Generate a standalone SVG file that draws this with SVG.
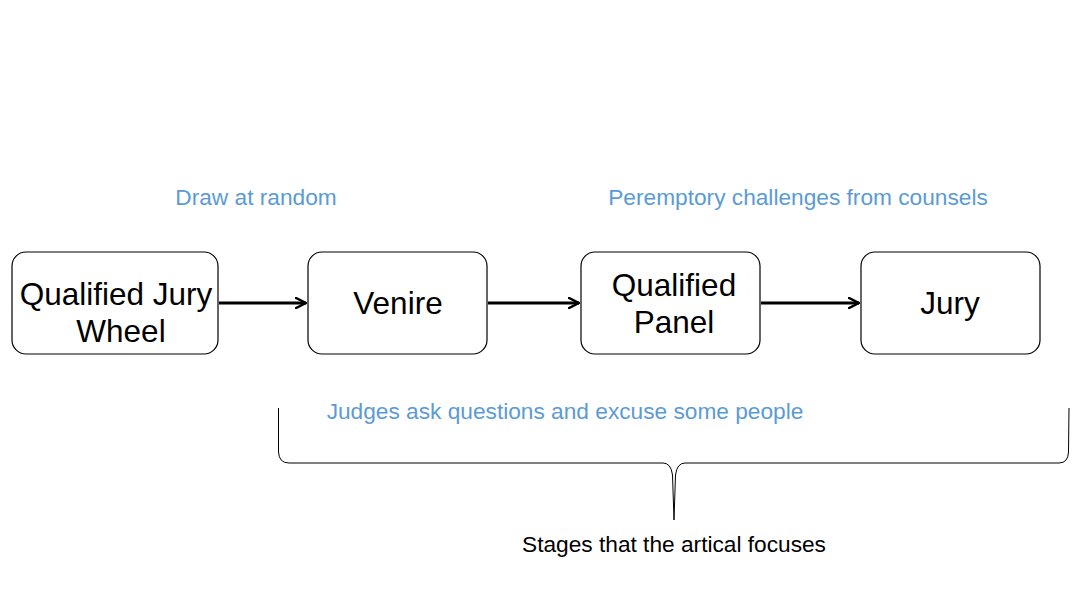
<svg xmlns="http://www.w3.org/2000/svg" width="1078" height="607" viewBox="0 0 1078 607">
<style>
.box{fill:#fff;stroke:#000;stroke-width:1.2}
.nt{font-family:"Liberation Sans",Arial,sans-serif;font-size:31.5px;fill:#000;text-anchor:middle}
.bl{font-family:"Liberation Sans",Arial,sans-serif;font-size:22.7px;fill:#5B9BD5;text-anchor:middle}
.bk{font-family:"Liberation Sans",Arial,sans-serif;font-size:22.7px;fill:#000;text-anchor:middle}
.conn{stroke:#000;stroke-width:3;fill:none}
</style>
<defs>
<marker id="ah" viewBox="0 0 12 12" refX="11" refY="6" markerWidth="12" markerHeight="12" markerUnits="userSpaceOnUse" orient="auto">
<path d="M1,1 L11,6 L1,11" fill="none" stroke="#000" stroke-width="2.5" stroke-linecap="round" stroke-linejoin="round"/>
</marker>
</defs>
<rect width="1078" height="607" fill="#fff"/>
<g id="wheel"><rect class="box" x="12" y="252" width="206" height="102" rx="14"/><text class="nt" x="116" y="305">Qualified Jury</text><text class="nt" x="121" y="342">Wheel</text></g>
<g id="venire"><rect class="box" x="308" y="252" width="179" height="102" rx="14"/><text class="nt" x="398" y="314">Venire</text></g>
<g id="panel"><rect class="box" x="581" y="252" width="179" height="102" rx="14"/><text class="nt" x="674" y="296">Qualified</text><text class="nt" x="674" y="333">Panel</text></g>
<g id="jury"><rect class="box" x="861" y="252" width="179" height="102" rx="14"/><text class="nt" x="950" y="314">Jury</text></g>
<g id="connectors">
<line class="conn" x1="219" y1="303" x2="306" y2="303" marker-end="url(#ah)"/>
<line class="conn" x1="488" y1="303" x2="579" y2="303" marker-end="url(#ah)"/>
<line class="conn" x1="761" y1="303" x2="859" y2="303" marker-end="url(#ah)"/>
</g>
<g id="brace"><path d="M278.5,408 L278.5,452 Q279,463 289,463 L663,463 Q671,463 672.5,475 L674,520 L675.5,475 Q677,463 685,463 L1059,463 Q1068,463 1068.5,452 L1069,408" fill="none" stroke="#000" stroke-width="1"/></g>
<text class="bl" x="256" y="205">Draw at random</text>
<text class="bl" x="798" y="205">Peremptory challenges from counsels</text>
<text class="bl" x="565" y="419">Judges ask questions and excuse some people</text>
<text class="bk" x="674" y="552">Stages that the artical focuses</text>
</svg>
